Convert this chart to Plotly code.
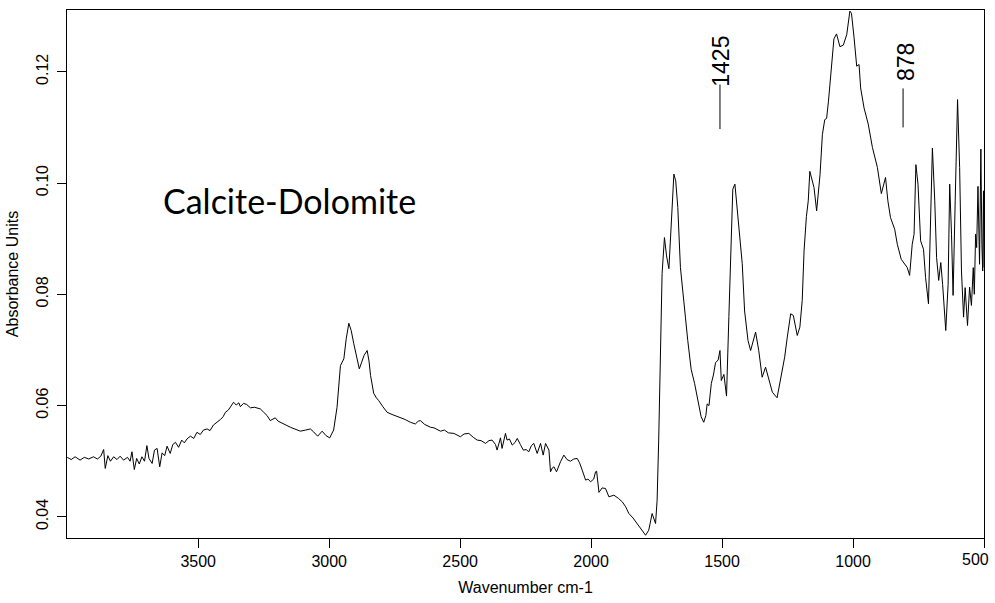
import plotly.graph_objects as go

wavenumber = [
    4000, 3985, 3970, 3951, 3935, 3918, 3900, 3885, 3872, 3861, 3855, 3845, 3835, 3823, 3810, 3798,
    3785, 3770, 3760, 3753, 3744, 3735, 3725, 3715, 3705, 3696, 3688, 3676, 3667, 3657, 3647, 3638,
    3628, 3619, 3607, 3597, 3587, 3575, 3563, 3553, 3543, 3530, 3517, 3505, 3492, 3480, 3466, 3455,
    3442, 3428, 3415, 3405, 3396, 3385, 3375, 3365, 3355, 3345, 3339, 3327, 3315, 3301, 3285, 3263,
    3250, 3237, 3225, 3206, 3195, 3180, 3165, 3148, 3130, 3110, 3090, 3072, 3060, 3044, 3027, 3012,
    2998, 2983, 2970, 2957, 2944, 2935, 2925, 2916, 2906, 2895, 2885, 2876, 2867, 2855, 2848, 2842,
    2830, 2820, 2811, 2795, 2779, 2760, 2741, 2728, 2710, 2690, 2671, 2660, 2652, 2635, 2625, 2613,
    2600, 2590, 2575, 2560, 2545, 2524, 2510, 2499, 2485, 2467, 2450, 2435, 2420, 2403, 2390, 2378,
    2365, 2359, 2346, 2340, 2327, 2321, 2312, 2301, 2290, 2282, 2270, 2259, 2248, 2238, 2228, 2219,
    2206, 2193, 2183, 2174, 2161, 2155, 2148, 2142, 2132, 2124, 2117, 2104, 2092, 2079, 2066, 2053,
    2044, 2034, 2021, 2012, 2002, 1990, 1983, 1979, 1970, 1958, 1945, 1932, 1913, 1895, 1881, 1868,
    1856, 1840, 1824, 1808, 1792, 1780, 1767, 1754, 1748, 1742, 1735, 1729, 1720, 1712, 1703, 1694,
    1684, 1677, 1669, 1659, 1648, 1640, 1631, 1618, 1605, 1592, 1580, 1570, 1562, 1557, 1550, 1541,
    1533, 1525, 1515, 1508, 1503, 1493, 1483, 1474, 1466, 1459, 1451, 1442, 1432, 1423, 1414, 1401,
    1391, 1372, 1360, 1347, 1334, 1321, 1308, 1290, 1277, 1261, 1251, 1238, 1228, 1213, 1203, 1194,
    1187, 1178, 1171, 1165, 1149, 1139, 1126, 1117, 1108, 1101, 1094, 1083, 1073, 1063, 1050, 1037,
    1024, 1012, 1006, 996, 986, 977, 971, 958, 942, 926, 907, 892, 876, 867, 857, 841,
    831, 816, 806, 793, 784, 774, 767, 760, 752, 742, 731, 723, 712, 704, 697, 688,
    681, 673, 665, 658, 646, 637, 631, 624, 618, 610, 601, 593, 586, 578, 572, 563,
    555, 548, 541, 537, 532, 528, 523, 517, 512, 508, 505, 502, 500,
]

absorbance = [
    0.0507, 0.0503, 0.0508, 0.0502, 0.0507, 0.0504, 0.0508, 0.0504, 0.0509, 0.0521, 0.0487, 0.0510, 0.0500, 0.0508, 0.0503, 0.0509,
    0.0502, 0.0507, 0.0500, 0.0517, 0.0485, 0.0505, 0.0495, 0.0508, 0.0500, 0.0528, 0.0505, 0.0496, 0.0520, 0.0523, 0.0490, 0.0515,
    0.0510, 0.0527, 0.0514, 0.0530, 0.0534, 0.0525, 0.0538, 0.0533, 0.0540, 0.0545, 0.0541, 0.0552, 0.0548, 0.0556, 0.0558, 0.0555,
    0.0565, 0.0570, 0.0575, 0.0580, 0.0588, 0.0592, 0.0600, 0.0606, 0.0601, 0.0605, 0.0598, 0.0604, 0.0602, 0.0596, 0.0597, 0.0594,
    0.0588, 0.0582, 0.0573, 0.0578, 0.0572, 0.0568, 0.0565, 0.0561, 0.0557, 0.0554, 0.0556, 0.0558, 0.0553, 0.0545, 0.0554, 0.0546,
    0.0542, 0.0556, 0.0597, 0.0672, 0.0684, 0.0720, 0.0748, 0.0735, 0.0711, 0.0688, 0.0666, 0.0678, 0.0690, 0.0699, 0.0680, 0.0654,
    0.0622, 0.0614, 0.0609, 0.0598, 0.0588, 0.0584, 0.0581, 0.0578, 0.0575, 0.0570, 0.0567, 0.0572, 0.0573, 0.0566, 0.0564, 0.0561,
    0.0560, 0.0557, 0.0554, 0.0556, 0.0551, 0.0550, 0.0546, 0.0544, 0.0549, 0.0550, 0.0543, 0.0538, 0.0537, 0.0532, 0.0537, 0.0538,
    0.0530, 0.0520, 0.0542, 0.0523, 0.0550, 0.0538, 0.0540, 0.0529, 0.0534, 0.0541, 0.0530, 0.0520, 0.0521, 0.0517, 0.0528, 0.0532,
    0.0514, 0.0532, 0.0511, 0.0532, 0.0520, 0.0481, 0.0488, 0.0490, 0.0481, 0.0492, 0.0499, 0.0511, 0.0503, 0.0500, 0.0504, 0.0505,
    0.0497, 0.0484, 0.0466, 0.0468, 0.0463, 0.0468, 0.0481, 0.0482, 0.0444, 0.0452, 0.0451, 0.0436, 0.0439, 0.0433, 0.0427, 0.0418,
    0.0406, 0.0398, 0.0388, 0.0378, 0.0367, 0.0376, 0.0406, 0.0388, 0.0430, 0.0538, 0.0717, 0.0837, 0.0902, 0.0869, 0.0846, 0.0926,
    0.1016, 0.1004, 0.0956, 0.0848, 0.0788, 0.0759, 0.0717, 0.0665, 0.0640, 0.0610, 0.0580, 0.0570, 0.0582, 0.0603, 0.0600, 0.0640,
    0.0655, 0.0677, 0.0682, 0.0699, 0.0645, 0.0656, 0.0617, 0.0760, 0.0908, 0.0989, 0.0998, 0.0956, 0.0908, 0.0855, 0.0770, 0.0717,
    0.0699, 0.0732, 0.0699, 0.0651, 0.0669, 0.0648, 0.0624, 0.0614, 0.0645, 0.0687, 0.0723, 0.0765, 0.0762, 0.0726, 0.0741, 0.0789,
    0.0878, 0.0940, 0.0968, 0.1021, 0.0992, 0.0950, 0.1015, 0.1087, 0.1114, 0.1116, 0.1146, 0.1206, 0.1259, 0.1268, 0.1245, 0.1248,
    0.1267, 0.1309, 0.1305, 0.1261, 0.1210, 0.1213, 0.1171, 0.1135, 0.1106, 0.1064, 0.1028, 0.0981, 0.1010, 0.0968, 0.0938, 0.0917,
    0.0890, 0.0863, 0.0857, 0.0848, 0.0834, 0.0890, 0.0908, 0.1033, 0.0998, 0.0896, 0.0881, 0.0830, 0.0783, 0.0938, 0.1063, 0.0968,
    0.0866, 0.0825, 0.0857, 0.0818, 0.0735, 0.0818, 0.0998, 0.0908, 0.0798, 0.0968, 0.1150, 0.1028, 0.0842, 0.0759, 0.0812, 0.0744,
    0.0813, 0.0780, 0.0848, 0.0800, 0.0908, 0.0884, 0.0994, 0.0854, 0.1061, 0.0889, 0.0842, 0.0986, 0.0848,
]

x_ticks = [3500, 3000, 2500, 2000, 1500, 1000, 500]
x_tick_text = ["3500", "3000", "2500", "2000", "1500", "1000", "500"]
y_ticks = [0.04, 0.06, 0.08, 0.10, 0.12]

sample_label = "Calcite-Dolomite"
peak_labels = ["1425", "878"]
peak_label_x = [1502, 795]
peak_label_y = [0.1219, 0.1217]
peak_mark_x = [1508, 809]
peak_mark_y0 = [0.1097, 0.1100]
peak_mark_y1 = [0.1177, 0.1170]

fig = go.Figure()
fig.add_trace(go.Scatter(x=wavenumber, y=absorbance, mode="lines",
                         line=dict(color="black", width=1), showlegend=False,
                         hoverinfo="skip"))

for lab, lx, ly in zip(peak_labels, peak_label_x, peak_label_y):
    fig.add_annotation(x=lx, y=ly, text=lab, showarrow=False, textangle=-90,
                       font=dict(family="Liberation Sans, Arial", size=23, color="black"),
                       xanchor="center", yanchor="middle")
for mx, y0, y1 in zip(peak_mark_x, peak_mark_y0, peak_mark_y1):
    fig.add_shape(type="line", x0=mx, x1=mx, y0=y0, y1=y1, xref="x", yref="y",
                  line=dict(color="black", width=1))

fig.add_annotation(x=3153, y=0.0969, text=sample_label, showarrow=False,
                   font=dict(family="Lato, Carlito, sans-serif", size=34, color="black"),
                   xanchor="center", yanchor="middle")

axis_font = dict(family="Liberation Sans, Arial", size=16, color="black")

# the last tick label sits at the right edge: draw it as a right-aligned label
shown_tick_text = x_tick_text[:-1] + [""]
fig.add_annotation(x=x_ticks[-1], xref="x", y=0, yref="paper", text=x_tick_text[-1],
                   showarrow=False, xanchor="right", yanchor="top",
                   xshift=7, yshift=-11, font=axis_font)

fig.update_layout(
    width=995, height=603,
    margin=dict(l=67, r=11, t=10, b=65, autoexpand=False),
    paper_bgcolor="white", plot_bgcolor="white",
    font=axis_font,
    xaxis=dict(range=[4001, 500], tickvals=x_ticks, ticktext=shown_tick_text,
               ticks="outside", ticklen=9, automargin=False,
               tickcolor="black", showline=True, mirror=True, linecolor="black",
               linewidth=1, showgrid=False, zeroline=False, tickfont=axis_font,
               title=dict(text="Wavenumber cm-1", font=axis_font, standoff=12)),
    yaxis=dict(range=[0.0362, 0.1311], tickvals=y_ticks, tickformat=".2f",
               ticks="outside", ticklen=9, tickangle=-90, tickcolor="black",
               ticklabelstandoff=3, automargin=False,
               showline=True, mirror=True, linecolor="black", linewidth=1,
               showgrid=False, zeroline=False, tickfont=axis_font,
               title=dict(text="Absorbance Units", font=axis_font, standoff=10)),
)

fig.write_html(
    "out.html",
    config={"displayModeBar": False},
    post_script="document.body.style.margin='0';document.body.style.padding='0';"
                "document.body.style.overflow='hidden';",
)
